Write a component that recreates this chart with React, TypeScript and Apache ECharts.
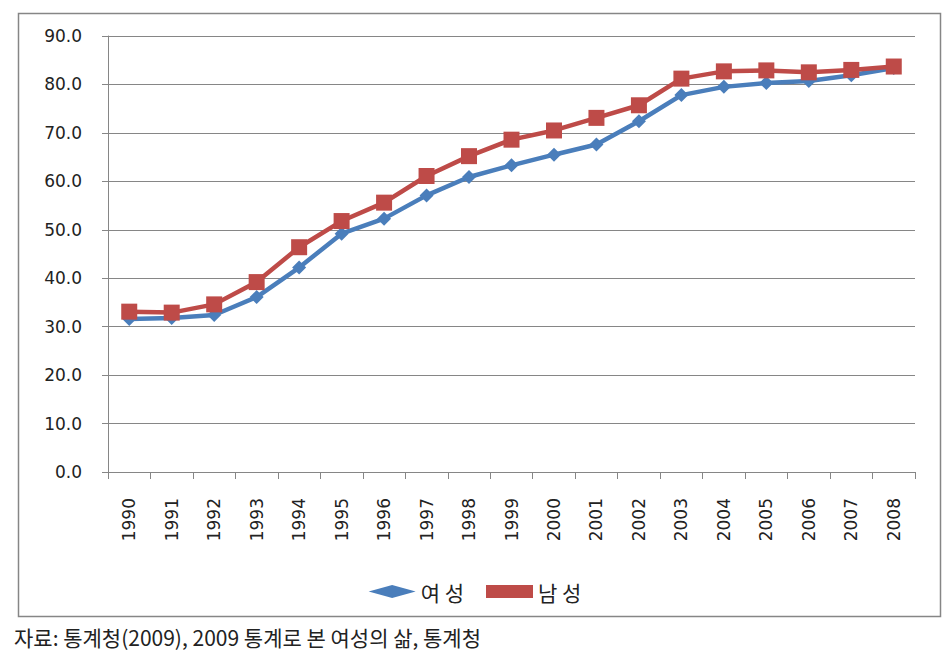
import React, { useEffect, useRef } from "react";
import * as echarts from "echarts";

const years = ["1990","1991","1992","1993","1994","1995","1996","1997","1998","1999","2000","2001","2002","2003","2004","2005","2006","2007","2008"];
const female = [31.6, 31.8, 32.4, 36.1, 42.2, 49.2, 52.3, 57.1, 60.9, 63.3, 65.5, 67.6, 72.4, 77.8, 79.5, 80.3, 80.7, 81.9, 83.4];
const male = [33.1, 32.9, 34.6, 39.2, 46.4, 51.8, 55.6, 61.1, 65.2, 68.6, 70.5, 73.1, 75.7, 81.2, 82.7, 82.9, 82.5, 83.0, 83.7];
const seriesNames = ["여 성", "남 성"];
const sourceNote = "자료: 통계청(2009), 2009 통계로 본 여성의 삶, 통계청";

const BLUE = "#4A7EBB";
const RED = "#BE4B48";
const AXIS = "#868686";
const FONT = "'DejaVu Sans', Verdana, sans-serif";
const KFONT = "'Noto Sans CJK KR', sans-serif";

export default function App() {
  const ref = useRef<HTMLDivElement>(null);
  useEffect(() => {
    if (!ref.current) return;
    const chart = echarts.init(ref.current, undefined, { renderer: "svg" });
    chart.setOption({
      animation: false,
      backgroundColor: "#ffffff",
      grid: { left: 108, right: 35, top: 36, bottom: 198 },
      legend: {
        data: [
          { name: seriesNames[0], icon: "diamond" },
          { name: seriesNames[1], icon: "rect" },
        ],
        top: 576,
        left: "center",
        itemWidth: 47,
        itemHeight: 13,
        itemGap: 22,
        textStyle: { fontFamily: KFONT, fontSize: 21, color: "#222" },
      },
      xAxis: {
        type: "category",
        data: years,
        boundaryGap: true,
        axisLine: { lineStyle: { color: AXIS, width: 1 } },
        axisTick: { show: true, length: 7, interval: 0, alignWithLabel: false, lineStyle: { color: AXIS } },
        axisLabel: { rotate: 90, margin: 26, interval: 0, fontFamily: FONT, fontSize: 17, color: "#222" },
        splitLine: { show: false },
      },
      yAxis: {
        type: "value",
        min: 0,
        max: 90,
        interval: 10,
        axisLine: { show: true, lineStyle: { color: AXIS, width: 1 } },
        axisTick: { show: true, length: 6, lineStyle: { color: AXIS } },
        axisLabel: {
          margin: 26,
          fontFamily: FONT,
          fontSize: 17,
          color: "#222",
          formatter: (v: number) => v.toFixed(1),
        },
        splitLine: { show: true, lineStyle: { color: AXIS, width: 1 } },
      },
      series: [
        {
          name: seriesNames[0],
          type: "line",
          data: female,
          symbol: "diamond",
          symbolSize: 14,
          lineStyle: { color: BLUE, width: 4.5 },
          itemStyle: { color: BLUE },
          z: 2,
        },
        {
          name: seriesNames[1],
          type: "line",
          data: male,
          symbol: "rect",
          symbolSize: 16,
          lineStyle: { color: RED, width: 4.5 },
          itemStyle: { color: RED },
          z: 3,
        },
      ],
      graphic: [
        {
          type: "rect",
          shape: { x: 18.5, y: 13.5, width: 922, height: 603 },
          style: { fill: "none", stroke: AXIS, lineWidth: 1.5 },
          silent: true,
          z: -1,
        },
        {
          type: "text",
          x: 14,
          y: 626,
          style: { text: sourceNote, fontFamily: KFONT, fontSize: 21, fill: "#222" },
        },
      ],
    });
    return () => chart.dispose();
  }, []);
  return (
    <div
      ref={ref}
      style={{ position: "absolute", left: 0, top: 0, width: 950, height: 670, background: "#fff" }}
    />
  );
}
